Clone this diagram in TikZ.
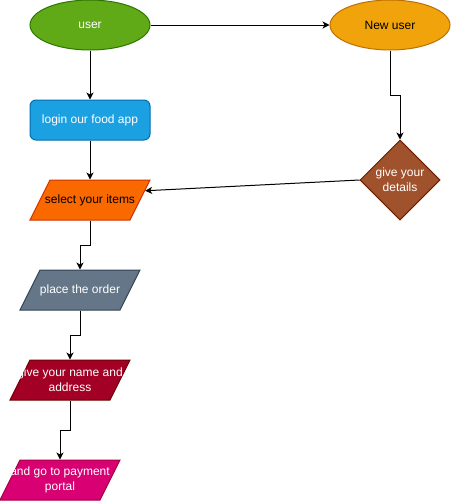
\documentclass[tikz,border=0pt]{standalone}
\usepackage{fontspec}
\setmainfont{Liberation Sans}
\usetikzlibrary{shapes.geometric}
\usetikzlibrary{arrows.meta}
\usetikzlibrary{calc}

\definecolor{usrfill}{HTML}{60A917}
\definecolor{usrline}{HTML}{2D7600}
\definecolor{newfill}{HTML}{F0A30A}
\definecolor{newline}{HTML}{BD7000}
\definecolor{logfill}{HTML}{1BA1E2}
\definecolor{logline}{HTML}{006EAF}
\definecolor{selfill}{HTML}{FA6800}
\definecolor{selline}{HTML}{C73500}
\definecolor{detfill}{HTML}{A0522D}
\definecolor{detline}{HTML}{6D1F00}
\definecolor{ordfill}{HTML}{647687}
\definecolor{ordline}{HTML}{314354}
\definecolor{namfill}{HTML}{A20025}
\definecolor{namline}{HTML}{6F0000}
\definecolor{payfill}{HTML}{D80073}
\definecolor{payline}{HTML}{A50040}

\begin{document}
\begin{tikzpicture}[x=1pt, y=-1pt,
    box/.style={draw, line width=1pt, font=\fontsize{12}{15}\selectfont, align=center, inner sep=0pt},
    every label/.style={font=\fontsize{12}{15}\selectfont, align=center, inner sep=0pt},
    oval/.style={box, ellipse, minimum width=120pt, minimum height=50pt},
    para/.style={box, trapezium, trapezium left angle=63.43, trapezium right angle=116.57,
      trapezium stretches body, inner xsep=0pt, inner ysep=20pt, minimum width=120pt},
    link/.style={line width=1pt, -{Stealth[length=7pt, width=7pt, inset=2pt]}}]
    \useasboundingbox (0,0) rectangle (451,501);
    \node [oval, fill=usrfill, draw=usrline, text=white] (usr) at (90,25) {user};
    \node [oval, fill=newfill, draw=newline] (new) at (390,25) {New user};
    \node [box, rounded corners=6pt, minimum width=120pt, minimum height=40pt,
      fill=logfill, draw=logline, text=white] (log) at (90,120) {login our food app};
    \node [para, fill=selfill, draw=selline, label={center:select your items}] (sel) at (90,200) {};
    \node [box, diamond, minimum width=80pt, minimum height=80pt, fill=detfill, draw=detline,
      label={[white]center:give your\\details}] (det) at (400,180) {};
    \node [para, fill=ordfill, draw=ordline, label={[white]center:place the order}] (ord) at (80,290) {};
    \node [para, fill=namfill, draw=namline, label={[white]center:give your name and\\address}] (nam) at (70,380) {};
    \node [para, fill=payfill, draw=payline, label={[white]center:and go to payment\\portal}] (pay) at (60,480) {};
    \draw [link] (usr) -- (new);
    \draw [link] (usr) -- (log);
    \draw [link] (log) -- (sel.center |- sel.top side);
    \draw [link] (new.south) -- ++(0,45) -| (det.north);
    \draw [link] (det.west) -- ($(sel.top right corner)!0.275!(sel.bottom right corner)$);
    \draw [link] (sel.center |- sel.bottom side) -- ++(0,25) -| (ord.center |- ord.top side);
    \draw [link] (ord.center |- ord.bottom side) -- ++(0,25) -| (nam.center |- nam.top side);
    \draw [link] (nam.center |- nam.bottom side) -- ++(0,30) -| (pay.center |- pay.top side);
  \end{tikzpicture}
\end{document}
